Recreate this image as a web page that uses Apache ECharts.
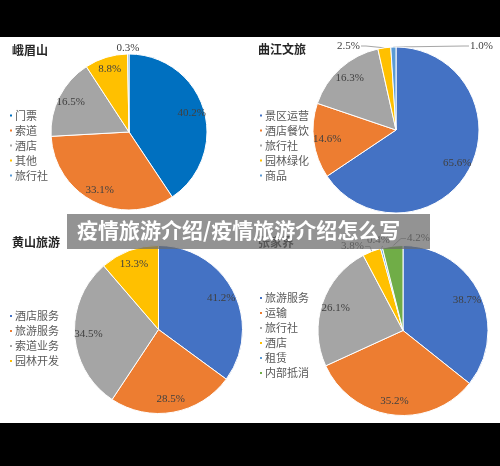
<!DOCTYPE html>
<html>
<head>
<meta charset="utf-8">
<script src="https://cdn.jsdelivr.net/npm/echarts@6/dist/echarts.min.js"></script>
<style>html,body{margin:0;padding:0;background:#000;}#c{width:500px;height:466px;}</style>
</head>
<body>
<div id="c"></div>
<script>
const titles = ['峨眉山', '曲江文旅', '黄山旅游', '张家界'];
const emeiNames = ['门票', '索道', '酒店', '其他', '旅行社'];
const emeiValues = [40.2, 33.1, 16.5, 8.8, 0.3];
const qujiangNames = ['景区运营', '酒店餐饮', '旅行社', '园林绿化', '商品'];
const qujiangValues = [65.6, 14.6, 16.3, 2.5, 1.0];
const huangshanNames = ['酒店服务', '旅游服务', '索道业务', '园林开发'];
const huangshanValues = [41.2, 28.5, 34.5, 13.3];
const zjjNames = ['旅游服务', '运输', '旅行社', '酒店', '租赁', '内部抵消'];
const zjjValues = [38.7, 35.2, 26.1, 3.8, 0.4, 4.2];
const bannerText = '疫情旅游介绍/疫情旅游介绍怎么写';

const colorsA = ['#0070C0', '#ED7D31', '#A5A5A5', '#FFC000', '#5B9BD5'];
const colorsB = ['#4472C4', '#ED7D31', '#A5A5A5', '#FFC000', '#5B9BD5', '#70AD47'];

const CJK = '"Noto Sans CJK SC", sans-serif';
const NUM = '"Liberation Serif", serif';

// layout only (positions relative to each pie's top point)
const panels = [
  {names: emeiNames, values: emeiValues, colors: colorsA, center: [129, 132], r: 78, legend: [8, 108], title: [12, 44],
   outside: {4: {dx: -1, dy: -6, align: 'center', line: 'none'}}},
  {names: qujiangNames, values: qujiangValues, colors: colorsB, center: [396, 130], r: 83, legend: [258, 108], title: [258, 43],
   outside: {3: {dx: -36, dy: -1}, 4: {dx: 74, dy: -1}}},
  {names: huangshanNames, values: huangshanValues, colors: colorsB, center: [158.5, 329.5], r: 84, legend: [8, 308.5], title: [12, 236],
   outside: {}},
  {names: zjjNames, values: zjjValues, colors: colorsB, center: [403, 330.5], r: 85, legend: [258, 290.5], title: [258, 236],
   outside: {3: {dx: -39, dy: 1}, 4: {dx: -13, dy: -5.5, line: 'up'}, 5: {dx: 4, dy: -7}}}
];

const series = [];
const legends = [];
const titleOpts = [];
panels.forEach((p, k) => {
  const small = v => v < 5;
  const topY = p.center[1] - p.r;
  series.push({
    type: 'pie', name: titles[k] + '-pie',
    center: p.center, radius: [0, p.r],
    startAngle: 90, clockwise: true,
    avoidLabelOverlap: false,
    emphasis: {disabled: true}, silent: true,
    itemStyle: {borderColor: '#fff', borderWidth: 1},
    label: {position: 'outside', fontFamily: NUM, fontSize: 11, color: '#404040',
            formatter: d => d.value.toFixed(1) + '%'},
    labelLine: {length: 6, length2: 12, lineStyle: {color: '#A6A6A6', width: 1}},
    labelLayout: params => {
      const cfg = p.outside[params.dataIndex];
      if (!cfg) return {};
      const p0 = params.labelLinePoints ? params.labelLinePoints[0] : [p.center[0], topY];
      const lx = p.center[0] + cfg.dx;
      const ly = topY + cfg.dy;
      const align = cfg.align || (cfg.dx < 0 ? 'right' : 'left');
      let pts;
      if (cfg.line === 'none') pts = [p0, p0, p0];
      else if (cfg.line === 'up') pts = [p0, [p0[0] + 1, ly + 6], [p0[0] + 1, ly + 6]];
      else if (align === 'right') pts = [p0, [lx + 6, ly], [lx + 1, ly]];
      else pts = [p0, [lx - 6, ly], [lx - 1, ly]];
      return {x: lx, y: ly, align: align, verticalAlign: 'middle', labelLinePoints: pts};
    },
    data: p.names.map((n, i) => ({
      name: n, value: p.values[i],
      itemStyle: {color: p.colors[i]},
      label: {show: small(p.values[i])},
      labelLine: {show: small(p.values[i])}
    }))
  });
  series.push({
    type: 'pie', name: titles[k] + '-lab',
    center: p.center, radius: [p.r * 0.6, p.r],
    startAngle: 90, clockwise: true,
    emphasis: {disabled: true}, silent: true,
    itemStyle: {color: 'rgba(0,0,0,0)', borderWidth: 0},
    label: {position: 'inside', fontFamily: NUM, fontSize: 11, color: '#404040',
            formatter: d => d.value.toFixed(1) + '%'},
    labelLine: {show: false},
    data: p.names.map((n, i) => ({
      name: n, value: p.values[i],
      label: {show: !small(p.values[i])}
    }))
  });
  legends.push({
    orient: 'vertical', left: p.legend[0], top: p.legend[1], padding: 0,
    icon: 'rect', itemWidth: 4, itemHeight: 4, itemGap: 0,
    selectedMode: false,
    textStyle: {fontFamily: CJK, fontSize: 11, color: '#595959', lineHeight: 15, padding: [0, 0, 0, -3]},
    data: p.names.map((n, i) => ({name: n, itemStyle: {color: p.colors[i]}}))
  });
  titleOpts.push({
    text: titles[k], left: p.title[0], top: p.title[1], padding: 0,
    textStyle: {fontFamily: CJK, fontSize: 12, fontWeight: 'bold', color: '#262626'}
  });
});

const chart = echarts.init(document.getElementById('c'), null, {renderer: 'canvas'});
chart.setOption({
  backgroundColor: '#ffffff',
  animation: false,
  title: titleOpts,
  legend: legends,
  series: series,
  graphic: [
    {type: 'rect', z: -10, shape: {x: 0, y: 0, width: 500, height: 37}, style: {fill: '#000'}},
    {type: 'rect', z: -10, shape: {x: 0, y: 423, width: 500, height: 43}, style: {fill: '#000'}},
    {type: 'rect', z: 100, shape: {x: 67, y: 214, width: 363, height: 35}, style: {fill: 'rgba(105,105,105,0.72)'}},
    {type: 'text', z: 101, x: 77, y: 230,
     style: {text: bannerText, fill: '#fff', font: 'bold 21px "Noto Sans CJK SC", sans-serif',
             textAlign: 'left', textVerticalAlign: 'middle'}}
  ]
});
</script>
</body>
</html>
